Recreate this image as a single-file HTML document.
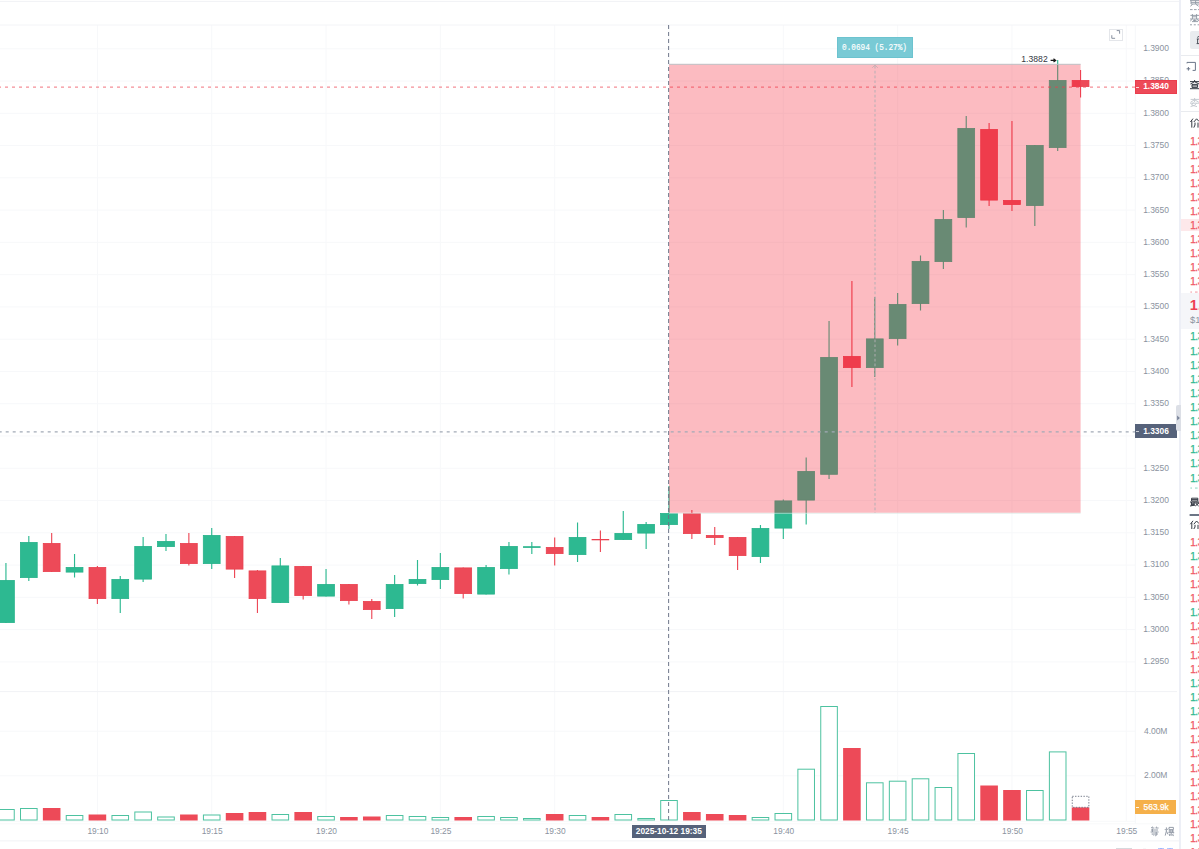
<!DOCTYPE html>
<html><head><meta charset="utf-8"><title>chart</title>
<style>
html,body{margin:0;padding:0;background:#fff;}
body{width:1199px;height:849px;overflow:hidden;position:relative;font-family:"Liberation Sans",sans-serif;}
#chart{position:absolute;left:0;top:0;}
.ax{position:absolute;left:1143.2px;width:40px;font-size:8.5px;line-height:10px;color:#8b93a0;white-space:nowrap;letter-spacing:-0.05px;}
.tm{position:absolute;top:826px;width:41px;text-align:center;font-size:8.4px;line-height:10px;color:#8b93a0;}
.lbl{position:absolute;color:#fff;font-weight:bold;font-size:8.4px;line-height:10px;white-space:nowrap;}
#strip{position:absolute;left:1178.8px;top:0;width:2.4px;height:849px;background:#edeff6;}
#panel{position:absolute;left:1181.2px;top:0;width:18px;height:849px;background:#fff;overflow:hidden;}
.rw{position:absolute;left:0;width:18px;height:10px;line-height:10px;font-size:10px;font-weight:normal;-webkit-text-stroke:0.3px currentColor;padding-left:9px;box-sizing:border-box;white-space:nowrap;overflow:hidden;}
.rw{letter-spacing:-0.4px;} .rw.r{color:#f05a68;} .rw.g{color:#33ba92;}
.rw.hl{background:#fde8ea;}
</style></head><body>
<svg id="chart" width="1199" height="849" viewBox="0 0 1199 849">
<g stroke="#f7f8fa" stroke-width="1">
<line x1="0" x2="1135" y1="48.75" y2="48.75"/>
<line x1="0" x2="1135" y1="81.02" y2="81.02"/>
<line x1="0" x2="1135" y1="113.29" y2="113.29"/>
<line x1="0" x2="1135" y1="145.56" y2="145.56"/>
<line x1="0" x2="1135" y1="177.83" y2="177.83"/>
<line x1="0" x2="1135" y1="210.10" y2="210.10"/>
<line x1="0" x2="1135" y1="242.37" y2="242.37"/>
<line x1="0" x2="1135" y1="274.64" y2="274.64"/>
<line x1="0" x2="1135" y1="306.91" y2="306.91"/>
<line x1="0" x2="1135" y1="339.18" y2="339.18"/>
<line x1="0" x2="1135" y1="371.45" y2="371.45"/>
<line x1="0" x2="1135" y1="403.72" y2="403.72"/>
<line x1="0" x2="1135" y1="435.99" y2="435.99"/>
<line x1="0" x2="1135" y1="468.26" y2="468.26"/>
<line x1="0" x2="1135" y1="500.53" y2="500.53"/>
<line x1="0" x2="1135" y1="532.80" y2="532.80"/>
<line x1="0" x2="1135" y1="565.07" y2="565.07"/>
<line x1="0" x2="1135" y1="597.34" y2="597.34"/>
<line x1="0" x2="1135" y1="629.61" y2="629.61"/>
<line x1="0" x2="1135" y1="661.88" y2="661.88"/>
<line x1="0" x2="1135" y1="731.20" y2="731.20"/>
<line x1="0" x2="1135" y1="775.80" y2="775.80"/>
<line x1="97.40" x2="97.40" y1="25" y2="821"/>
<line x1="211.72" x2="211.72" y1="25" y2="821"/>
<line x1="326.04" x2="326.04" y1="25" y2="821"/>
<line x1="440.36" x2="440.36" y1="25" y2="821"/>
<line x1="554.68" x2="554.68" y1="25" y2="821"/>
<line x1="669.00" x2="669.00" y1="25" y2="821"/>
<line x1="783.32" x2="783.32" y1="25" y2="821"/>
<line x1="897.64" x2="897.64" y1="25" y2="821"/>
<line x1="1011.96" x2="1011.96" y1="25" y2="821"/>
<line x1="1126.28" x2="1126.28" y1="25" y2="821"/>
</g>
<g stroke="#f1f2f5" stroke-width="1">
<line x1="0" x2="1179" y1="1.4" y2="1.4"/>
<line x1="0" x2="1179" y1="25" y2="25" stroke="#f3f4f7"/>
<line x1="0" x2="1177" y1="691.6" y2="691.6"/>
<line x1="0" x2="1177" y1="823.8" y2="823.8" stroke="#f8f9fa"/>
<line x1="0" x2="1135" y1="821.3" y2="821.3" stroke="#f8f9fa"/>
<line x1="0" x2="1179" y1="840.9" y2="840.9"/>
<line x1="1135.3" x2="1135.3" y1="25" y2="823.5" stroke="#f6f7f9"/>
</g>
<line x1="5.94" x2="5.94" y1="563.0" y2="623.0" stroke="#2db991" stroke-width="1.15"/>
<rect x="-2.46" y="580.4" width="16.8" height="42.2" fill="#2db991" stroke="#27b28a" stroke-width="0.8"/>
<line x1="28.81" x2="28.81" y1="536.0" y2="581.0" stroke="#2db991" stroke-width="1.15"/>
<rect x="20.41" y="542.4" width="16.8" height="35.2" fill="#2db991" stroke="#27b28a" stroke-width="0.8"/>
<line x1="51.67" x2="51.67" y1="533.0" y2="572.0" stroke="#ed4a58" stroke-width="1.15"/>
<rect x="43.27" y="543.4" width="16.8" height="28.2" fill="#ed4a58" stroke="#ea404f" stroke-width="0.8"/>
<line x1="74.54" x2="74.54" y1="554.0" y2="577.5" stroke="#2db991" stroke-width="1.15"/>
<rect x="66.14" y="567.4" width="16.8" height="4.7" fill="#2db991" stroke="#27b28a" stroke-width="0.8"/>
<line x1="97.40" x2="97.40" y1="566.0" y2="604.0" stroke="#ed4a58" stroke-width="1.15"/>
<rect x="89.00" y="567.4" width="16.8" height="31.2" fill="#ed4a58" stroke="#ea404f" stroke-width="0.8"/>
<line x1="120.26" x2="120.26" y1="576.0" y2="613.0" stroke="#2db991" stroke-width="1.15"/>
<rect x="111.86" y="579.4" width="16.8" height="19.2" fill="#2db991" stroke="#27b28a" stroke-width="0.8"/>
<line x1="143.13" x2="143.13" y1="537.0" y2="582.0" stroke="#2db991" stroke-width="1.15"/>
<rect x="134.73" y="546.4" width="16.8" height="32.7" fill="#2db991" stroke="#27b28a" stroke-width="0.8"/>
<line x1="165.99" x2="165.99" y1="534.0" y2="551.0" stroke="#2db991" stroke-width="1.15"/>
<rect x="157.59" y="541.4" width="16.8" height="5.2" fill="#2db991" stroke="#27b28a" stroke-width="0.8"/>
<line x1="188.86" x2="188.86" y1="533.0" y2="565.5" stroke="#ed4a58" stroke-width="1.15"/>
<rect x="180.46" y="543.4" width="16.8" height="20.2" fill="#ed4a58" stroke="#ea404f" stroke-width="0.8"/>
<line x1="211.72" x2="211.72" y1="528.0" y2="569.0" stroke="#2db991" stroke-width="1.15"/>
<rect x="203.32" y="535.4" width="16.8" height="28.2" fill="#2db991" stroke="#27b28a" stroke-width="0.8"/>
<line x1="234.58" x2="234.58" y1="536.0" y2="578.0" stroke="#ed4a58" stroke-width="1.15"/>
<rect x="226.18" y="536.4" width="16.8" height="32.7" fill="#ed4a58" stroke="#ea404f" stroke-width="0.8"/>
<line x1="257.45" x2="257.45" y1="570.0" y2="613.0" stroke="#ed4a58" stroke-width="1.15"/>
<rect x="249.05" y="570.9" width="16.8" height="27.7" fill="#ed4a58" stroke="#ea404f" stroke-width="0.8"/>
<line x1="280.31" x2="280.31" y1="558.0" y2="603.0" stroke="#2db991" stroke-width="1.15"/>
<rect x="271.91" y="565.9" width="16.8" height="36.7" fill="#2db991" stroke="#27b28a" stroke-width="0.8"/>
<line x1="303.18" x2="303.18" y1="566.0" y2="599.5" stroke="#ed4a58" stroke-width="1.15"/>
<rect x="294.78" y="566.4" width="16.8" height="29.2" fill="#ed4a58" stroke="#ea404f" stroke-width="0.8"/>
<line x1="326.04" x2="326.04" y1="569.0" y2="596.5" stroke="#2db991" stroke-width="1.15"/>
<rect x="317.64" y="584.4" width="16.8" height="11.7" fill="#2db991" stroke="#27b28a" stroke-width="0.8"/>
<line x1="348.90" x2="348.90" y1="584.0" y2="604.5" stroke="#ed4a58" stroke-width="1.15"/>
<rect x="340.50" y="584.4" width="16.8" height="16.2" fill="#ed4a58" stroke="#ea404f" stroke-width="0.8"/>
<line x1="371.77" x2="371.77" y1="599.0" y2="619.0" stroke="#ed4a58" stroke-width="1.15"/>
<rect x="363.37" y="601.4" width="16.8" height="8.2" fill="#ed4a58" stroke="#ea404f" stroke-width="0.8"/>
<line x1="394.63" x2="394.63" y1="575.0" y2="617.0" stroke="#2db991" stroke-width="1.15"/>
<rect x="386.23" y="584.4" width="16.8" height="24.2" fill="#2db991" stroke="#27b28a" stroke-width="0.8"/>
<line x1="417.50" x2="417.50" y1="560.0" y2="585.5" stroke="#2db991" stroke-width="1.15"/>
<rect x="409.10" y="579.4" width="16.8" height="4.2" fill="#2db991" stroke="#27b28a" stroke-width="0.8"/>
<line x1="440.36" x2="440.36" y1="553.0" y2="589.0" stroke="#2db991" stroke-width="1.15"/>
<rect x="431.96" y="567.4" width="16.8" height="12.2" fill="#2db991" stroke="#27b28a" stroke-width="0.8"/>
<line x1="463.22" x2="463.22" y1="567.5" y2="598.5" stroke="#ed4a58" stroke-width="1.15"/>
<rect x="454.82" y="567.9" width="16.8" height="25.7" fill="#ed4a58" stroke="#ea404f" stroke-width="0.8"/>
<line x1="486.09" x2="486.09" y1="565.0" y2="594.5" stroke="#2db991" stroke-width="1.15"/>
<rect x="477.69" y="567.4" width="16.8" height="26.7" fill="#2db991" stroke="#27b28a" stroke-width="0.8"/>
<line x1="508.95" x2="508.95" y1="542.0" y2="574.5" stroke="#2db991" stroke-width="1.15"/>
<rect x="500.55" y="546.4" width="16.8" height="22.2" fill="#2db991" stroke="#27b28a" stroke-width="0.8"/>
<line x1="531.82" x2="531.82" y1="542.0" y2="554.0" stroke="#2db991" stroke-width="1.15"/>
<rect x="523.42" y="546.7" width="16.8" height="0.7" fill="#2db991" stroke="#27b28a" stroke-width="0.8"/>
<line x1="554.68" x2="554.68" y1="537.5" y2="565.5" stroke="#ed4a58" stroke-width="1.15"/>
<rect x="546.28" y="547.4" width="16.8" height="6.2" fill="#ed4a58" stroke="#ea404f" stroke-width="0.8"/>
<line x1="577.54" x2="577.54" y1="522.5" y2="562.0" stroke="#2db991" stroke-width="1.15"/>
<rect x="569.14" y="537.4" width="16.8" height="17.2" fill="#2db991" stroke="#27b28a" stroke-width="0.8"/>
<line x1="600.41" x2="600.41" y1="530.5" y2="552.0" stroke="#ed4a58" stroke-width="1.15"/>
<rect x="592.01" y="539.4" width="16.8" height="0.5" fill="#ed4a58" stroke="#ea404f" stroke-width="0.8"/>
<line x1="623.27" x2="623.27" y1="511.0" y2="540.0" stroke="#2db991" stroke-width="1.15"/>
<rect x="614.87" y="533.4" width="16.8" height="6.2" fill="#2db991" stroke="#27b28a" stroke-width="0.8"/>
<line x1="646.14" x2="646.14" y1="522.0" y2="549.0" stroke="#2db991" stroke-width="1.15"/>
<rect x="637.74" y="524.4" width="16.8" height="8.7" fill="#2db991" stroke="#27b28a" stroke-width="0.8"/>
<line x1="669.00" x2="669.00" y1="486.0" y2="529.0" stroke="#2db991" stroke-width="1.15"/>
<rect x="660.60" y="513.4" width="16.8" height="11.2" fill="#2db991" stroke="#27b28a" stroke-width="0.8"/>
<line x1="691.86" x2="691.86" y1="510.0" y2="539.0" stroke="#ed4a58" stroke-width="1.15"/>
<rect x="683.46" y="513.4" width="16.8" height="20.2" fill="#ed4a58" stroke="#ea404f" stroke-width="0.8"/>
<line x1="714.73" x2="714.73" y1="527.0" y2="545.0" stroke="#ed4a58" stroke-width="1.15"/>
<rect x="706.33" y="535.4" width="16.8" height="2.2" fill="#ed4a58" stroke="#ea404f" stroke-width="0.8"/>
<line x1="737.59" x2="737.59" y1="537.0" y2="570.0" stroke="#ed4a58" stroke-width="1.15"/>
<rect x="729.19" y="537.4" width="16.8" height="18.2" fill="#ed4a58" stroke="#ea404f" stroke-width="0.8"/>
<line x1="760.46" x2="760.46" y1="525.0" y2="563.0" stroke="#2db991" stroke-width="1.15"/>
<rect x="752.06" y="528.4" width="16.8" height="28.2" fill="#2db991" stroke="#27b28a" stroke-width="0.8"/>
<line x1="783.32" x2="783.32" y1="499.5" y2="539.0" stroke="#2db991" stroke-width="1.15"/>
<rect x="774.92" y="500.9" width="16.8" height="27.2" fill="#2db991" stroke="#27b28a" stroke-width="0.8"/>
<line x1="806.18" x2="806.18" y1="457.5" y2="524.5" stroke="#2db991" stroke-width="1.15"/>
<rect x="797.78" y="471.4" width="16.8" height="28.7" fill="#2db991" stroke="#27b28a" stroke-width="0.8"/>
<line x1="829.05" x2="829.05" y1="321.0" y2="479.0" stroke="#2db991" stroke-width="1.15"/>
<rect x="820.65" y="357.4" width="16.8" height="116.9" fill="#2db991" stroke="#27b28a" stroke-width="0.8"/>
<line x1="851.91" x2="851.91" y1="281.0" y2="387.0" stroke="#ed4a58" stroke-width="1.15"/>
<rect x="843.51" y="356.4" width="16.8" height="11.2" fill="#ed4a58" stroke="#ea404f" stroke-width="0.8"/>
<line x1="874.78" x2="874.78" y1="297.0" y2="377.0" stroke="#2db991" stroke-width="1.15"/>
<rect x="866.38" y="338.9" width="16.8" height="28.7" fill="#2db991" stroke="#27b28a" stroke-width="0.8"/>
<line x1="897.64" x2="897.64" y1="293.0" y2="345.5" stroke="#2db991" stroke-width="1.15"/>
<rect x="889.24" y="304.4" width="16.8" height="34.2" fill="#2db991" stroke="#27b28a" stroke-width="0.8"/>
<line x1="920.50" x2="920.50" y1="255.5" y2="310.5" stroke="#2db991" stroke-width="1.15"/>
<rect x="912.10" y="261.4" width="16.8" height="42.2" fill="#2db991" stroke="#27b28a" stroke-width="0.8"/>
<line x1="943.37" x2="943.37" y1="210.0" y2="269.0" stroke="#2db991" stroke-width="1.15"/>
<rect x="934.97" y="219.4" width="16.8" height="42.2" fill="#2db991" stroke="#27b28a" stroke-width="0.8"/>
<line x1="966.23" x2="966.23" y1="116.0" y2="227.5" stroke="#2db991" stroke-width="1.15"/>
<rect x="957.83" y="128.4" width="16.8" height="89.2" fill="#2db991" stroke="#27b28a" stroke-width="0.8"/>
<line x1="989.10" x2="989.10" y1="123.0" y2="206.0" stroke="#ed4a58" stroke-width="1.15"/>
<rect x="980.70" y="129.4" width="16.8" height="70.7" fill="#ed4a58" stroke="#ea404f" stroke-width="0.8"/>
<line x1="1011.96" x2="1011.96" y1="121.0" y2="211.0" stroke="#ed4a58" stroke-width="1.15"/>
<rect x="1003.56" y="200.4" width="16.8" height="4.2" fill="#ed4a58" stroke="#ea404f" stroke-width="0.8"/>
<line x1="1034.82" x2="1034.82" y1="145.0" y2="226.0" stroke="#2db991" stroke-width="1.15"/>
<rect x="1026.42" y="145.4" width="16.8" height="60.2" fill="#2db991" stroke="#27b28a" stroke-width="0.8"/>
<line x1="1057.69" x2="1057.69" y1="60.0" y2="151.0" stroke="#2db991" stroke-width="1.15"/>
<rect x="1049.29" y="80.4" width="16.8" height="67.2" fill="#2db991" stroke="#27b28a" stroke-width="0.8"/>
<line x1="1080.55" x2="1080.55" y1="70.0" y2="97.5" stroke="#ed4a58" stroke-width="1.15"/>
<rect x="1072.15" y="80.4" width="16.8" height="6.2" fill="#ed4a58" stroke="#ea404f" stroke-width="0.8"/>
<rect x="-2.36" y="809.5" width="16.6" height="10.5" fill="#fff" stroke="#4dc2a0" stroke-width="1"/>
<rect x="20.51" y="808.5" width="16.6" height="11.5" fill="#fff" stroke="#4dc2a0" stroke-width="1"/>
<rect x="42.87" y="808.0" width="17.6" height="12.5" fill="#ed4a58"/>
<rect x="66.24" y="815.5" width="16.6" height="4.5" fill="#fff" stroke="#4dc2a0" stroke-width="1"/>
<rect x="88.60" y="814.5" width="17.6" height="6.0" fill="#ed4a58"/>
<rect x="111.96" y="815.5" width="16.6" height="4.5" fill="#fff" stroke="#4dc2a0" stroke-width="1"/>
<rect x="134.83" y="812.0" width="16.6" height="8.0" fill="#fff" stroke="#4dc2a0" stroke-width="1"/>
<rect x="157.69" y="817.0" width="16.6" height="3.0" fill="#fff" stroke="#4dc2a0" stroke-width="1"/>
<rect x="180.06" y="814.5" width="17.6" height="6.0" fill="#ed4a58"/>
<rect x="203.42" y="815.0" width="16.6" height="5.0" fill="#fff" stroke="#4dc2a0" stroke-width="1"/>
<rect x="225.78" y="813.0" width="17.6" height="7.5" fill="#ed4a58"/>
<rect x="248.65" y="812.0" width="17.6" height="8.5" fill="#ed4a58"/>
<rect x="272.01" y="814.5" width="16.6" height="5.5" fill="#fff" stroke="#4dc2a0" stroke-width="1"/>
<rect x="294.38" y="812.0" width="17.6" height="8.5" fill="#ed4a58"/>
<rect x="317.74" y="816.5" width="16.6" height="3.5" fill="#fff" stroke="#4dc2a0" stroke-width="1"/>
<rect x="340.10" y="817.0" width="17.6" height="3.5" fill="#ed4a58"/>
<rect x="362.97" y="816.5" width="17.6" height="4.0" fill="#ed4a58"/>
<rect x="386.33" y="815.5" width="16.6" height="4.5" fill="#fff" stroke="#4dc2a0" stroke-width="1"/>
<rect x="409.20" y="816.5" width="16.6" height="3.5" fill="#fff" stroke="#4dc2a0" stroke-width="1"/>
<rect x="432.06" y="817.5" width="16.6" height="2.5" fill="#fff" stroke="#4dc2a0" stroke-width="1"/>
<rect x="454.42" y="817.0" width="17.6" height="3.5" fill="#ed4a58"/>
<rect x="477.79" y="816.5" width="16.6" height="3.5" fill="#fff" stroke="#4dc2a0" stroke-width="1"/>
<rect x="500.65" y="817.5" width="16.6" height="2.5" fill="#fff" stroke="#4dc2a0" stroke-width="1"/>
<rect x="523.52" y="818.5" width="16.6" height="1.5" fill="#fff" stroke="#4dc2a0" stroke-width="1"/>
<rect x="545.88" y="814.0" width="17.6" height="6.5" fill="#ed4a58"/>
<rect x="569.24" y="815.5" width="16.6" height="4.5" fill="#fff" stroke="#4dc2a0" stroke-width="1"/>
<rect x="591.61" y="817.0" width="17.6" height="3.5" fill="#ed4a58"/>
<rect x="614.97" y="814.5" width="16.6" height="5.5" fill="#fff" stroke="#4dc2a0" stroke-width="1"/>
<rect x="637.84" y="818.5" width="16.6" height="1.5" fill="#fff" stroke="#4dc2a0" stroke-width="1"/>
<rect x="660.70" y="800.5" width="16.6" height="19.5" fill="#fff" stroke="#4dc2a0" stroke-width="1"/>
<rect x="683.06" y="812.0" width="17.6" height="8.5" fill="#ed4a58"/>
<rect x="705.93" y="814.0" width="17.6" height="6.5" fill="#ed4a58"/>
<rect x="728.79" y="815.0" width="17.6" height="5.5" fill="#ed4a58"/>
<rect x="752.16" y="817.5" width="16.6" height="2.5" fill="#fff" stroke="#4dc2a0" stroke-width="1"/>
<rect x="775.02" y="813.5" width="16.6" height="6.5" fill="#fff" stroke="#4dc2a0" stroke-width="1"/>
<rect x="797.88" y="769.2" width="16.6" height="50.8" fill="#fff" stroke="#4dc2a0" stroke-width="1"/>
<rect x="820.75" y="706.5" width="16.6" height="113.5" fill="#fff" stroke="#4dc2a0" stroke-width="1"/>
<rect x="843.11" y="748.0" width="17.6" height="72.5" fill="#ed4a58"/>
<rect x="866.48" y="782.8" width="16.6" height="37.2" fill="#fff" stroke="#4dc2a0" stroke-width="1"/>
<rect x="889.34" y="781.2" width="16.6" height="38.8" fill="#fff" stroke="#4dc2a0" stroke-width="1"/>
<rect x="912.20" y="778.8" width="16.6" height="41.2" fill="#fff" stroke="#4dc2a0" stroke-width="1"/>
<rect x="935.07" y="787.5" width="16.6" height="32.5" fill="#fff" stroke="#4dc2a0" stroke-width="1"/>
<rect x="957.93" y="753.5" width="16.6" height="66.5" fill="#fff" stroke="#4dc2a0" stroke-width="1"/>
<rect x="980.30" y="785.5" width="17.6" height="35.0" fill="#ed4a58"/>
<rect x="1003.16" y="790.0" width="17.6" height="30.5" fill="#ed4a58"/>
<rect x="1026.52" y="790.5" width="16.6" height="29.5" fill="#fff" stroke="#4dc2a0" stroke-width="1"/>
<rect x="1049.39" y="751.9" width="16.6" height="68.1" fill="#fff" stroke="#4dc2a0" stroke-width="1"/>
<rect x="1071.75" y="807.4" width="17.6" height="13.1" fill="#ed4a58"/>
<rect x="1072.25" y="796.3" width="16.6" height="11" fill="none" stroke="#6a7080" stroke-width="0.9" stroke-dasharray="1.4 1.4"/>
<line x1="0" x2="1135" y1="87.2" y2="87.2" stroke="#ed4a58" stroke-opacity="0.62" stroke-width="1.3" stroke-dasharray="3 4" stroke-dashoffset="-5"/>
<rect x="669" y="64.3" width="411.6" height="448.5" fill="rgba(245,30,50,0.30)"/>
<line x1="669" x2="1080.6" y1="64.3" y2="64.3" stroke="#bdbfc4" stroke-width="1"/>
<line x1="669" x2="1080.6" y1="513.3" y2="513.3" stroke="#d9e6e2" stroke-width="0.8" opacity="0.8"/>
<line x1="875" x2="875" y1="66" y2="513" stroke="#b2b0b4" stroke-width="1.1" stroke-dasharray="2.6 2.2" opacity="0.85"/>
<path d="M872.2 67.8 L875 65 L877.8 67.8" fill="none" stroke="#b9a3a8" stroke-width="0.9" opacity="0.7"/>
<line x1="0" x2="1135" y1="431.8" y2="431.8" stroke="#a2aab6" stroke-width="1.2" stroke-dasharray="3 4" stroke-dashoffset="1.3"/>
<line x1="668.6" x2="668.6" y1="25" y2="823" stroke="#6a7386" stroke-width="0.95" stroke-dasharray="4 3"/>
<path d="M1050.6 60.4 H1055.4 M1053.5 58.8 L1055.7 60.4 L1053.5 62" fill="none" stroke="#1a1a1a" stroke-width="1.15"/>
</svg>
<div class="ax" style="top:43px">1.3900</div>
<div class="ax" style="top:75px">1.3850</div>
<div class="ax" style="top:108px">1.3800</div>
<div class="ax" style="top:140px">1.3750</div>
<div class="ax" style="top:172px">1.3700</div>
<div class="ax" style="top:205px">1.3650</div>
<div class="ax" style="top:237px">1.3600</div>
<div class="ax" style="top:269px">1.3550</div>
<div class="ax" style="top:301px">1.3500</div>
<div class="ax" style="top:334px">1.3450</div>
<div class="ax" style="top:366px">1.3400</div>
<div class="ax" style="top:398px">1.3350</div>
<div class="ax" style="top:463px">1.3250</div>
<div class="ax" style="top:495px">1.3200</div>
<div class="ax" style="top:527px">1.3150</div>
<div class="ax" style="top:559px">1.3100</div>
<div class="ax" style="top:592px">1.3050</div>
<div class="ax" style="top:624px">1.3000</div>
<div class="ax" style="top:656px">1.2950</div>
<div class="ax" style="left:1144px;top:726px">4.00M</div>
<div class="ax" style="left:1144px;top:770px">2.00M</div>
<div class="tm" style="left:77.4px">19:10</div>
<div class="tm" style="left:191.7px">19:15</div>
<div class="tm" style="left:306.0px">19:20</div>
<div class="tm" style="left:420.4px">19:25</div>
<div class="tm" style="left:534.7px">19:30</div>
<div class="tm" style="left:649.0px">19:35</div>
<div class="tm" style="left:763.3px">19:40</div>
<div class="tm" style="left:877.6px">19:45</div>
<div class="tm" style="left:992.0px">19:50</div>
<div class="tm" style="left:1106.3px">19:55</div>
<div style="position:absolute;left:1135px;top:79.7px;width:41.9px;height:13.9px;background:#ed4a58;border:1px solid #ea3d4d;box-sizing:border-box;"></div>
<div style="position:absolute;left:1136px;top:86.7px;width:3px;height:1px;background:#fff;opacity:.8"></div>
<div class="lbl" style="left:1143.2px;top:81.4px;">1.3840</div>
<div style="position:absolute;left:1135px;top:424.3px;width:41.7px;height:13.7px;background:#56627a;"></div>
<div style="position:absolute;left:1136px;top:431.3px;width:3px;height:1px;background:#fff;opacity:.7"></div>
<div class="lbl" style="left:1143.2px;top:426px;">1.3306</div>
<div style="position:absolute;left:1135px;top:800.4px;width:41.4px;height:14px;background:#f5b04a;"></div>
<div style="position:absolute;left:1136px;top:807px;width:3px;height:1px;background:#fff;opacity:.9"></div>
<div class="lbl" style="left:1143.6px;top:802.4px;font-weight:normal;-webkit-text-stroke:0.25px #fff;">563.9k</div>
<div style="position:absolute;left:631.8px;top:825.1px;width:74px;height:12.6px;background:#56627a;"></div>
<div class="lbl" style="left:635.8px;top:826.3px;letter-spacing:-0.04px;">2025-10-12 19:35</div>
<div style="position:absolute;left:836.9px;top:37.3px;width:76.1px;height:21.1px;background:#79cad5;border:1px solid #6cc3cf;box-sizing:border-box;"></div>
<div style="position:absolute;left:842.4px;top:42.8px;color:#fff;font-family:'Liberation Mono',monospace;font-size:8.6px;line-height:10px;white-space:nowrap;transform:scaleX(0.9);transform-origin:0 0;-webkit-text-stroke:0.15px #fff;">0.0694 (5.27%)</div>
<div style="position:absolute;left:1021.2px;top:54px;font-size:8.6px;line-height:10px;color:#33373f;letter-spacing:0.05px;">1.3882</div>
<!-- fullscreen icon -->
<div style="position:absolute;left:1109.4px;top:29px;width:11.5px;height:9.8px;border:1px solid #e4e6ea;box-sizing:content-box;background:#fff;"></div>
<svg style="position:absolute;left:1109px;top:28px" width="16" height="14" viewBox="0 0 16 14"><path d="M7.7 2.6 H10.6 V5.7 M2.8 7.2 V10.3 H6.1" fill="none" stroke="#7a8494" stroke-width="0.9"/></svg>
<!-- CJK-ish axis bottom right -->
<svg style="position:absolute;left:1150px;top:826px" width="26" height="11" viewBox="0 0 26 11"><g fill="none" stroke="#8b93a0" stroke-width="0.9">
<path d="M1 2 L3 0.8 M2 2 H4.4 M5.4 2 L7 0.8 M6 2 H8.6 M1 4 H8 M0.6 6 H8.6 M2.4 3 V6 M1.6 8 H8 M6.2 6 V9.6 L5.2 9.8 M3 8.6 L3.8 9.6"/>
<path d="M16.4 1.4 V5 L15.2 9.6 M16.6 5.4 L18 8.4 M15 3 L15.6 4.2 M18 2.6 L17.4 3.8 M19 1.4 H23.4 V3.6 H19 Z M18.6 5 H24 M20 4 V6.4 M22.4 4 V6.4 M18.4 6.6 H24.2 M21.2 6.6 V9.8 M19 8 L20.4 9 M23.6 8 L22.2 9.2 M19 9.8 L20.4 8.6 M23.8 9.8 L22.4 8.8"/></g></svg>
<div id="strip"></div>
<!-- collapse handle -->
<div style="position:absolute;left:1176.1px;top:405px;width:4.8px;height:26px;background:#dcdfe6;border-radius:2px 0 0 2px;"></div>
<svg style="position:absolute;left:1176px;top:413px" width="6" height="10" viewBox="0 0 6 10"><path d="M1.1 2.6 L3.9 5 L1.1 7.4 Z" fill="#7a8499"/></svg>
<div id="panel">
<div style="position:absolute;left:0;top:218.9px;width:18px;height:11.7px;background:#fde8ea;"></div>
<div class="rw r" style="top:137px">1.3</div>
<div class="rw r" style="top:151px">1.3</div>
<div class="rw r" style="top:165px">1.3</div>
<div class="rw r" style="top:179px">1.3</div>
<div class="rw r" style="top:193px">1.3</div>
<div class="rw r" style="top:207px">1.3</div>
<div class="rw r" style="top:221px">1.3</div>
<div class="rw r" style="top:235px">1.3</div>
<div class="rw r" style="top:249px">1.3</div>
<div class="rw r" style="top:263px">1.3</div>
<div class="rw r" style="top:277px">1.3</div>
<div class="rw g" style="top:332px">1.3</div>
<div class="rw g" style="top:347px">1.3</div>
<div class="rw g" style="top:361px">1.3</div>
<div class="rw g" style="top:375px">1.3</div>
<div class="rw g" style="top:389px">1.3</div>
<div class="rw g" style="top:403px">1.3</div>
<div class="rw g" style="top:417px">1.3</div>
<div class="rw g" style="top:431px">1.3</div>
<div class="rw g" style="top:445px">1.3</div>
<div class="rw g" style="top:459px">1.3</div>
<div class="rw g" style="top:474px">1.3</div>
<div class="rw r" style="top:538px">1.3</div>
<div class="rw g" style="top:552px">1.3</div>
<div class="rw r" style="top:566px">1.3</div>
<div class="rw r" style="top:580px">1.3</div>
<div class="rw r" style="top:594px">1.3</div>
<div class="rw g" style="top:608px">1.3</div>
<div class="rw r" style="top:622px">1.3</div>
<div class="rw r" style="top:636px">1.3</div>
<div class="rw r" style="top:651px">1.3</div>
<div class="rw r" style="top:665px">1.3</div>
<div class="rw g" style="top:679px">1.3</div>
<div class="rw g" style="top:693px">1.3</div>
<div class="rw g" style="top:707px">1.3</div>
<div class="rw r" style="top:721px">1.3</div>
<div class="rw r" style="top:735px">1.3</div>
<div class="rw r" style="top:749px">1.3</div>
<div class="rw r" style="top:764px">1.3</div>
<div class="rw r" style="top:778px">1.3</div>
<div class="rw r" style="top:792px">1.3</div>
<div class="rw r" style="top:806px">1.3</div>
<div class="rw r" style="top:820px">1.3</div>
<div class="rw r" style="top:834px">1.3</div>
<div class="rw r" style="top:848px">1.3</div>
<div style="position:absolute;left:0;top:293px;width:18px;height:36.2px;background:#f5f6f9;"></div>
<div style="position:absolute;left:8.6px;top:297.4px;font-size:14.6px;line-height:17px;font-weight:bold;color:#ee3f52;white-space:nowrap;">1.3</div>
<div style="position:absolute;left:8.8px;top:314.2px;font-size:9.4px;line-height:11px;color:#8b93a0;white-space:nowrap;">$1.</div>
<div style="position:absolute;left:0;top:55.2px;width:18px;height:1px;background:#e9ebef;"></div>
<div style="position:absolute;left:0;top:111.2px;width:18px;height:1px;background:#e9ebef;"></div>
<div style="position:absolute;left:8.8px;top:31.2px;width:12px;height:17.4px;background:#e9ecef;border-radius:2px;"></div>
<svg style="position:absolute;left:0;top:0" width="18" height="849" viewBox="0 0 18 849">
<g fill="none" stroke="#8f97a3" stroke-width="0.9">
<path d="M9 0.6 H18 M10 0.6 V4 M14.6 0.6 V4 M10 2.4 H18 M10 4 H18 M11.6 4.4 L9.4 6.2 M15 4.4 L17.6 6.2"/>
<path d="M9 9.6 H18" stroke-dasharray="2.6 1.4"/>
<path d="M9.4 15.4 H18 M11.4 14 V19 M15.6 14 V19 M11.4 16.8 H15.6 M9 19 H18 M11 19.4 L9.2 21.2 M16 19.4 L18 21 M12 20.4 H15.4 M13.6 19.4 V21.6 M11 21.6 H17"/>
<path d="M9 24.8 H18" stroke-dasharray="2 1.8"/>
</g>
<g fill="none" stroke="#6b7689" stroke-width="1">
<path d="M6 63.4 V62.4 H14.4 V70.4 H11.6 M7.4 67 V70.6 M5.6 68.8 H9.2"/>
</g>
<g fill="none" stroke="#2a2f3a" stroke-width="0.95">
<path d="M9 81.6 H18 M13.6 80 V81.6 M13.4 81.8 L9.4 84 M13.8 81.8 L18 84 M11 84.4 H16.6 V87.4 H11 Z M11 85.9 H16.6 M9 88.7 H18"/>
<path d="M12 118.6 L9.4 122 M10.8 120.6 V127.6 M15.6 118.8 L12.8 122 M15.6 118.8 L18 121.4 M14 122.6 V125 L12.8 127.6 M17 122.6 V127.6"/>
<path d="M10.6 498.2 H16.8 V501 H10.6 Z M10.6 499.6 H16.8 M9 502 H18 M10.4 502 V505.6 M10.4 503.2 H13.2 M10.4 504.4 H13.2 M13.2 502 V506 M9 506 L13.4 505.2 M14.4 503 H18 M14.6 503.2 L17.6 506 M17.8 503.2 L14.2 506"/>
<path d="M12 520.8 L9.4 524.2 M10.8 522.8 V529 M15.6 521 L12.8 524.2 M15.6 521 L18 523.6 M14 524.8 V527 L12.8 529 M17 524.8 V529"/>
</g>
<path d="M8.6 515 H18" stroke="#5c6678" stroke-width="1.8"/>
<path d="M16.2 37.4 L18 36.4 M15.8 39 H18 M16.6 39 V43.4 M15.6 43.6 H18" fill="none" stroke="#3a3f4b" stroke-width="0.9"/>
<g fill="none" stroke="#c3c8cf" stroke-width="0.95">
<path d="M9.6 99.4 H18 M13.6 98 V102 M13.2 100 L9.6 102.2 M14 100 L17.8 102.2 M9 103.2 H18 M12.4 102.4 L10.6 105 L16 106.6 M15.6 103.4 L13.4 105.4 L9.6 106.6"/>
</g>
<g fill="#f08a93"><rect x="9.4" y="291.6" width="1.6" height="0.9"/><rect x="14" y="291.6" width="2.6" height="0.9"/></g>
<g fill="#7fd3bb"><rect x="9.4" y="487.6" width="1.6" height="0.9"/><rect x="14" y="487.6" width="2.6" height="0.9"/></g>
</svg>
</div>
<!-- bottom fragments -->
<svg style="position:absolute;left:1110px;top:847px" width="70" height="3" viewBox="0 0 70 3" opacity="0.7"><g stroke-width="1" fill="none"><path d="M6 2 H22 M7 2.5 V3 M12 2.5 V3 M17 2.5 V3" stroke="#8b93a0"/><path d="M33 2.4 H36" stroke="#8b93a0"/><path d="M48 2 H54 M51 1.4 V3 M57 2 H63 M60 1.6 V3" stroke="#2962ff"/></g></svg>
</body></html>
